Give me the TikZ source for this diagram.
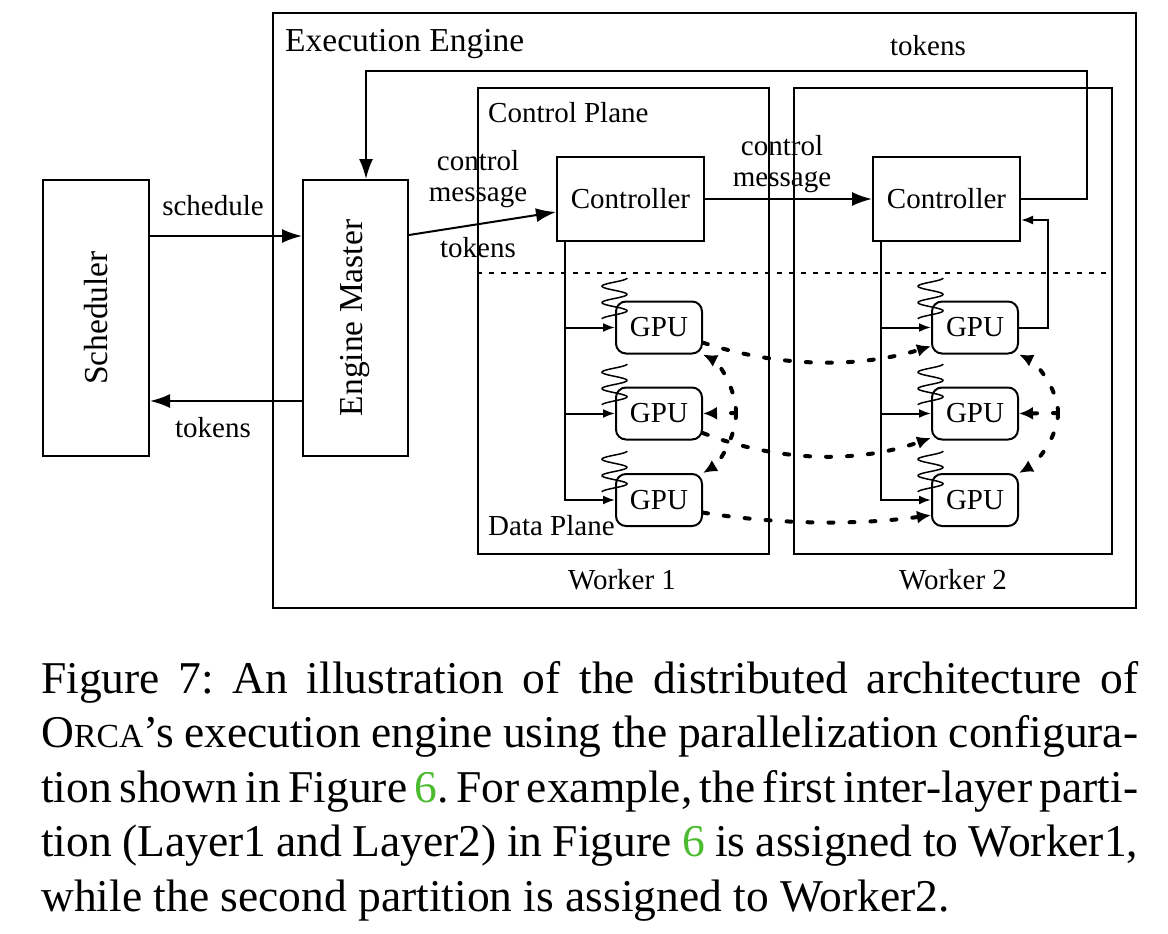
\documentclass[tikz,border=0pt]{standalone}
\usepackage{fontspec}
\setmainfont{Liberation Serif}
\usetikzlibrary{arrows.meta,calc}
\definecolor{figgreen}{RGB}{76,187,48}
\newcommand{\gpucoil}[2]{\draw[coil] plot[domain=0:1,samples=90] ({#1+12.5*cos(900*\x)},{#2+41*\x});}
\newcommand{\capline}[1]{\makebox[1097pt][s]{#1}}
\begin{document}
\begin{tikzpicture}[x=1pt,y=-1pt,
 box/.style={draw,line width=2pt,inner sep=0pt},
 lbl/.style={font=\fontsize{29}{34}\selectfont,inner sep=0pt},
 biglbl/.style={font=\fontsize{33.5}{38}\selectfont,inner sep=0pt},
 arr/.style={line width=2pt,-{Latex[length=20pt,width=14pt]}},
 sarr/.style={line width=2pt,-{Latex[length=12pt,width=9pt]}},
 dotarr/.style={line width=4pt,line cap=round,dash pattern=on 5pt off 16pt,-{Latex[length=14pt,width=13pt]}},
 sepline/.style={line width=1.8pt,dash pattern=on 5pt off 7pt},
 coil/.style={line width=1.5pt},
 gpu/.style={draw,line width=2pt,rounded corners=10pt,minimum width=86pt,minimum height=52pt,inner sep=0pt,font=\fontsize{29}{34}\selectfont},
]
\fill[white] (0,0) rectangle (1168,934);
\useasboundingbox (0,0) rectangle (1168,934);

% boxes
\node[box,minimum width=863pt,minimum height=595pt,anchor=north west] (exec) at (272,12) {};
\node[box,minimum width=106pt,minimum height=276pt] (sched) at (96,318) {};
\node[biglbl,rotate=90] (schedt) at (sched.center) {Scheduler};
\node[box,minimum width=105pt,minimum height=276pt] (em) at (355.5,318) {};
\node[biglbl,rotate=90] (emt) at (em.center) {Engine Master};
\node[box,minimum width=291pt,minimum height=466pt,anchor=north west] (w1) at (477,87) {};
\node[box,minimum width=318pt,minimum height=466pt,anchor=north west] (w2) at (793,87) {};
\node[box,lbl,minimum width=147pt,minimum height=84pt] (c1) at (630.5,199) {Controller};
\node[box,lbl,minimum width=147pt,minimum height=84pt] (c2) at (946.5,199) {Controller};

\node[gpu] (g11) at (659,327.5) {GPU};
\node[gpu] (g12) at (659,413.5) {GPU};
\node[gpu] (g13) at (659,500) {GPU};
\node[gpu] (g21) at (975,327.5) {GPU};
\node[gpu] (g22) at (975,413.5) {GPU};
\node[gpu] (g23) at (975,500) {GPU};

\gpucoil{614.5}{278}
\gpucoil{614.5}{364}
\gpucoil{614.5}{451}
\gpucoil{930.5}{278}
\gpucoil{930.5}{364}
\gpucoil{930.5}{451}

% labels
\node[biglbl,anchor=base west] (eet) at (285,52) {Execution Engine};
\node[lbl,anchor=base west] (cpt) at (488,122) {Control Plane};
\node[lbl,anchor=base west] (dpt) at (488,535) {Data Plane};
\node[lbl,anchor=base] (w1t) at (622,589) {Worker 1};
\node[lbl,anchor=base] (w2t) at (953,589) {Worker 2};
\node[lbl,anchor=base] (sch) at (213,215) {schedule};
\node[lbl,anchor=base] (tk1) at (213,437) {tokens};
\node[lbl,anchor=base] (cm1a) at (478,170) {control};
\node[lbl,anchor=base] (cm1b) at (478,201) {message};
\node[lbl,anchor=base] (tk2) at (478,257) {tokens};
\node[lbl,anchor=base] (cm2a) at (782,155) {control};
\node[lbl,anchor=base] (cm2b) at (782,186) {message};
\node[lbl,anchor=base] (tk3) at (928,56) {tokens};

% separator
\draw[sepline] (477,273) -- (1111,273);

% connectors
\draw[arr] ([yshift=82pt]sched.east) -- ([yshift=82pt]em.west);
\draw[arr] ([yshift=-83pt]em.west) -- ([yshift=-83pt]sched.east);
\draw[arr] ([yshift=83pt]em.east) -- ([yshift=-13pt]c1.west);
\draw[arr] (c1.east) -- (c2.west);
\coordinate (lpR) at (1087,71);
\coordinate (lpL) at (366,71);
\draw[arr] (c2.east) -| (lpR) -- (lpL) -- (lpL |- em.north);
\coordinate (fb) at (1048,220);
\draw[sarr] (g21.east) -| (fb) -- ([yshift=-21pt]c2.east);

\coordinate (b1) at ([xshift=9pt]c1.south west);
\coordinate (b2) at ([xshift=9pt]c2.south west);
\draw[sarr] (b1) |- (g13.west);
\draw[sarr] (b1 |- g11.west) -- (g11.west);
\draw[sarr] (b1 |- g12.west) -- (g12.west);
\draw[sarr] (b2) |- (g23.west);
\draw[sarr] (b2 |- g21.west) -- (g21.west);
\draw[sarr] (b2 |- g22.west) -- (g22.west);

% dotted data arrows
\draw[dotarr] (g11.-19) .. controls (780,368) and (860,368) .. (g21.-157);
\draw[dotarr] (g12.-24) .. controls (780,463) and (860,463) .. (g22.-151);
\draw[dotarr] (g13.-16) .. controls (780,525) and (860,525) .. (g23.-161);

\coordinate (a1) at (736,413);
\draw[dotarr] (a1) .. controls (736,388) and (718,362) .. (g11.south east);
\draw[dotarr] (a1) .. controls (736,438) and (718,464) .. (g13.north east);
\draw[dotarr] (a1) -- (g12.east);
\coordinate (a2) at (1058,413);
\draw[dotarr] (a2) .. controls (1058,388) and (1035,362) .. (g21.south east);
\draw[dotarr] (a2) .. controls (1058,438) and (1035,464) .. (g23.north east);
\draw[dotarr] (a2) -- (g22.east);

% caption
\node[anchor=base west,text width=1097pt,align=left,inner sep=0pt,font=\fontsize{45.5}{54.6}\selectfont] (cap) at (41,693) {\frenchspacing\spaceskip=0.25em plus 0.3em minus 0.12em
\capline{Figure 7: An illustration of the distributed architecture of}\\
\capline{O{\fontsize{33.7}{40}\selectfont RCA}’s execution engine using the parallelization configura-}\\
\capline{tion shown in Figure \textcolor{figgreen}{6}. For example, the first inter-layer parti-}\\
\capline{tion (Layer1 and Layer2) in Figure \textcolor{figgreen}{6} is assigned to Worker1,}\\
while the second partition is assigned to Worker2.};
\end{tikzpicture}
\end{document}
